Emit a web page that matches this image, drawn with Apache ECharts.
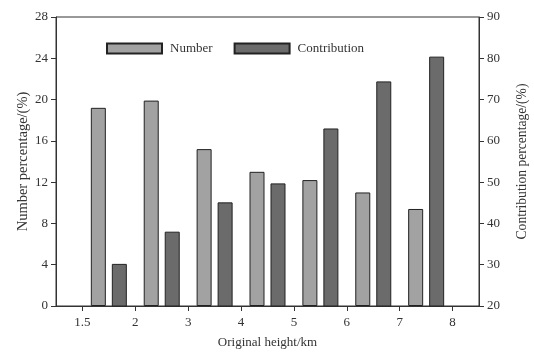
<!DOCTYPE html>
<html>
<head>
<meta charset="utf-8">
<script src="https://cdn.jsdelivr.net/npm/echarts@6/dist/echarts.min.js"></script>
<style>
  html, body { margin: 0; padding: 0; background: #fff; }
  #chart { width: 534px; height: 356px; }
</style>
</head>
<body>
<div id="chart"></div>
<script>
// 刻度标签（高度分界）
var heightTicks = ['1.5', '2', '3', '4', '5', '6', '7', '8'];
// 高度区间（柱子所在位置）
var heightBins = ['1.5-2', '2-3', '3-4', '4-5', '5-6', '6-7', '7-8'];
// 数量百分比 (左轴)
var numberPct = [19.2, 19.9, 15.2, 13.0, 12.2, 11.0, 9.4];
// 贡献百分比 (右轴)
var contributionPct = [30.2, 38.0, 45.1, 49.7, 63.0, 74.4, 80.4];

var font = 'Liberation Serif';
var textColor = '#333';
var lineColor = '#333';

var chart = echarts.init(document.getElementById('chart'));

var axisLine = { show: true, lineStyle: { color: lineColor, width: 1 } };
var axisTick = { show: true, length: 5, inside: false, lineStyle: { color: lineColor } };
var axisLabel = { color: textColor, fontFamily: font, fontSize: 13 };

var option = {
  animation: false,
  textStyle: { fontFamily: font },
  grid: [
    // 外框和刻度
    { left: 56, right: 55, top: 17, bottom: 50, outerBoundsMode: 'none', containLabel: false,
      show: true, borderColor: lineColor, borderWidth: 1 },
    // 柱子：从第一个刻度到最后一个刻度
    { left: 82.4, right: 81.4, top: 17, bottom: 50, outerBoundsMode: 'none', containLabel: false }
  ],
  legend: {
    left: 101,
    top: 37,
    icon: 'rect',
    itemWidth: 55,
    itemHeight: 10,
    itemGap: 21,
    textStyle: { color: textColor, fontFamily: font, fontSize: 13, padding: [0, 0, 0, 3] },
    data: ['Number', 'Contribution']
  },
  xAxis: [{
    type: 'category',
    gridIndex: 0,
    data: heightTicks,
    boundaryGap: true,
    axisLine: axisLine,
    axisTick: { show: true, length: 5, alignWithLabel: true, lineStyle: { color: lineColor } },
    axisLabel: Object.assign({ margin: 10 }, axisLabel),
    name: 'Original height/km',
    nameLocation: 'middle',
    nameGap: 30,
    nameMoveOverlap: false,
    nameTextStyle: { color: textColor, fontFamily: font, fontSize: 13 }
  }, {
    type: 'category',
    gridIndex: 1,
    data: heightBins,
    show: false
  }],
  yAxis: [{
    type: 'value',
    gridIndex: 0,
    position: 'left',
    min: 0,
    max: 28,
    interval: 4,
    splitLine: { show: false },
    axisLine: axisLine,
    axisTick: axisTick,
    axisLabel: axisLabel,
    name: 'Number percentage/(%)',
    nameLocation: 'middle',
    nameGap: 25,
    nameMoveOverlap: false,
    nameTextStyle: { color: textColor, fontFamily: font, fontSize: 14.5 }
  }, {
    type: 'value',
    gridIndex: 0,
    position: 'right',
    min: 20,
    max: 90,
    interval: 10,
    splitLine: { show: false },
    axisLine: axisLine,
    axisTick: axisTick,
    axisLabel: axisLabel,
    name: 'Contribution percentage/(%)',
    nameLocation: 'middle',
    nameGap: 36,
    nameMoveOverlap: false,
    nameTextStyle: { color: textColor, fontFamily: font, fontSize: 13.6 }
  }, {
    type: 'value', gridIndex: 1, min: 0, max: 28, show: false, splitLine: { show: false }
  }, {
    type: 'value', gridIndex: 1, min: 20, max: 90, show: false, splitLine: { show: false }
  }],
  series: [{
    name: 'Number',
    type: 'bar',
    xAxisIndex: 1,
    yAxisIndex: 2,
    barWidth: 15,
    barGap: '40%',
    itemStyle: { color: '#a2a2a2', borderColor: '#222', borderWidth: 1 },
    data: numberPct
  }, {
    name: 'Contribution',
    type: 'bar',
    xAxisIndex: 1,
    yAxisIndex: 3,
    barWidth: 15,
    barGap: '40%',
    clip: true,
    itemStyle: { color: '#6b6b6b', borderColor: '#222', borderWidth: 1 },
    data: contributionPct
  }]
};

chart.setOption(option);
</script>
</body>
</html>
